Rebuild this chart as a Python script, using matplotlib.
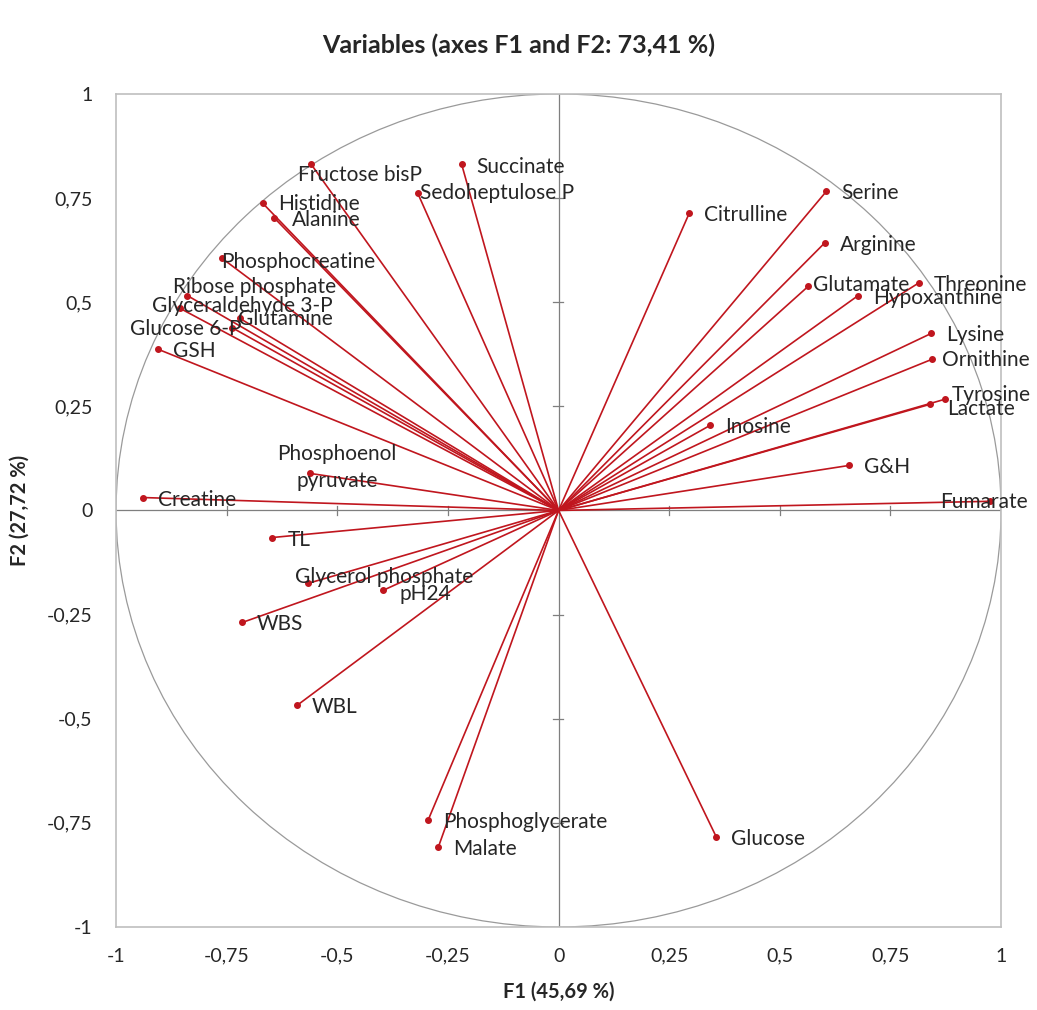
import numpy as np
import matplotlib
matplotlib.use("Agg")
import matplotlib.pyplot as plt
from matplotlib.patches import Circle

plt.rcParams['font.family'] = ['Lato', 'DejaVu Sans']

# variable coordinates on F1 / F2
names = ["Fructose bisP", "Succinate", "Sedoheptulose P", "Histidine", "Alanine",
         "Phosphocreatine", "Ribose phosphate", "Glyceraldehyde 3-P", "Glutamine",
         "Glucose 6-P", "GSH", "Citrulline", "Serine", "Arginine", "Glutamate",
         "Threonine", "Hypoxanthine", "Lysine", "Ornithine", "Tyrosine", "Lactate",
         "Inosine", "G&H", "Fumarate", "Creatine", "Phosphoenol\npyruvate", "TL",
         "Glycerol phosphate", "pH24", "WBS", "WBL", "Phosphoglycerate", "Malate",
         "Glucose"]
f1 = [-0.559, -0.219, -0.318, -0.668, -0.643,
      -0.760, -0.839, -0.855, -0.720,
      -0.738, -0.905, 0.295, 0.605, 0.602, 0.564,
      0.815, 0.677, 0.842, 0.844, 0.873, 0.840,
      0.342, 0.656, 0.975, -0.939, -0.562, -0.647,
      -0.566, -0.397, -0.715, -0.591, -0.295, -0.272,
      0.356]
f2 = [0.831, 0.831, 0.761, 0.737, 0.703,
      0.605, 0.516, 0.485, 0.461,
      0.439, 0.387, 0.713, 0.766, 0.643, 0.538,
      0.547, 0.516, 0.425, 0.363, 0.267, 0.255,
      0.204, 0.108, 0.022, 0.031, 0.089, -0.065,
      -0.175, -0.192, -0.269, -0.468, -0.744, -0.809,
      -0.783]

ticks = [-1, -0.75, -0.5, -0.25, 0, 0.25, 0.5, 0.75, 1]
tick_labels = ["-1", "-0,75", "-0,5", "-0,25", "0", "0,25", "0,5", "0,75", "1"]

# label offsets in pixels (dx, dy, horizontal alignment)
offsets = {
    "Fructose bisP": (-13, -11, 'left'), "Succinate": (15, -3, 'left'),
    "Sedoheptulose P": (2, 0, 'left'), "Histidine": (15, -1, 'left'),
    "Alanine": (18, -2, 'left'), "Phosphocreatine": (-1, -4, 'left'),
    "Ribose phosphate": (-14, 9, 'left'), "Glyceraldehyde 3-P": (-28, 2, 'left'),
    "Glutamine": (-2, -1, 'left'), "Glucose 6-P": (10, -1, 'right'),
    "Glutamate": (5, 1, 'left'), "Ornithine": (10, -1, 'left'),
    "Tyrosine": (7, 4, 'left'), "Lactate": (17, -5, 'left'),
    "Fumarate": (-50, -1, 'left'), "Phosphoenol\npyruvate": (27, 6, 'center'),
    "Glycerol phosphate": (-13, 6, 'left'), "pH24": (17, -4, 'left'),
}

red = '#C0161E'
txt = '#262626'

fig = plt.figure(figsize=(10.37, 10.10), dpi=100)
ax = fig.add_axes([0.1119, 0.0822, 0.8535, 0.8248])
ax.set_xlim(-1, 1)
ax.set_ylim(-1, 1)

for s in ax.spines.values():
    s.set_color('#BFBFBF')
    s.set_linewidth(1.2)

ax.add_patch(Circle((0, 0), 1, fill=False, edgecolor='#9A9A9A', linewidth=0.9, zorder=1))
ax.axhline(0, color='#7F7F7F', linewidth=0.9, zorder=1)
ax.axvline(0, color='#7F7F7F', linewidth=0.9, zorder=1)
# small ticks on the centre lines
for t in ticks[1:-1]:
    if t == 0:
        continue
    ax.plot([t, t], [-0.012, 0.01], color='#7F7F7F', linewidth=0.9, zorder=1)
    ax.plot([-0.012, 0.01], [t, t], color='#7F7F7F', linewidth=0.9, zorder=1)

for name, x, y in zip(names, f1, f2):
    ax.plot([0, x], [0, y], color=red, linewidth=1.2, zorder=2)
    ax.plot(x, y, 'o', color=red, markersize=4, zorder=3)
    dx, dy, ha = offsets.get(name, (15, -2, 'left'))
    ax.annotate(name, (x, y), xytext=(dx, dy), textcoords='offset pixels',
                ha=ha, va='center', fontsize=15, color=txt,
                linespacing=1.4, zorder=4, annotation_clip=False)

ax.set_xticks(ticks)
ax.set_xticklabels(tick_labels)
ax.set_yticks(ticks)
ax.set_yticklabels(tick_labels)
ax.tick_params(length=0, labelsize=14, labelcolor=txt)
ax.tick_params(axis='x', pad=15)
ax.tick_params(axis='y', pad=17)

ax.set_xlabel("F1 (45,69 %)", fontsize=14.5, fontweight='bold', labelpad=12, color=txt)
ax.set_ylabel("F2 (27,72 %)", fontsize=14.5, fontweight='bold', labelpad=12, color=txt)
fig.text(0.5, 0.955, "Variables (axes F1 and F2: 73,41 %)", ha='center', va='center',
         fontsize=18, fontweight='bold', color=txt)

fig.savefig("out.png", dpi=100)
